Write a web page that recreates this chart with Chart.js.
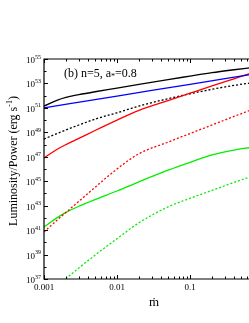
<!DOCTYPE html>
<html><head><meta charset="utf-8">
<script src="https://cdn.jsdelivr.net/npm/chart.js@4/dist/chart.umd.min.js"></script>
<style>html,body{margin:0;padding:0;background:#fff;overflow:hidden;width:249px;height:323px}canvas{display:block}</style>
</head><body>
<canvas id="c" width="270" height="323"></canvas>
<script>
// accretion rate (x) values
const mdot = [0.001, 0.0015, 0.002, 0.003, 0.005, 0.01, 0.02, 0.05, 0.1, 0.2, 0.4, 0.7];
// log10 of luminosity / power (erg/s)
const logBlackSolid  = [51.15, 51.62, 51.86, 52.08, 52.32, 52.62, 52.93, 53.32, 53.6, 53.88, 54.12, 54.3];
const logBlackDotted = [48.45, 48.9, 49.2, 49.6, 50.08, 50.6, 51.15, 51.75, 52.15, 52.52, 52.84, 53.05];
const logRedSolid    = [46.9, 47.6, 48.0, 48.5, 49.15, 50.0, 50.8, 51.6, 52.2, 52.8, 53.38, 53.85];
const logRedDotted   = [40.85, 41.8, 42.45, 43.35, 44.5, 46.0, 47.25, 48.2, 48.9, 49.6, 50.3, 50.85];
const logGreenSolid  = [41.25, 42.0, 42.45, 42.95, 43.5, 44.2, 44.95, 45.9, 46.55, 47.15, 47.55, 47.78];
const mdotBlue = [0.001, 0.01, 0.1, 0.7];
const logBlue  = [51.0, 51.97, 52.93, 53.75];
const mdotGreenDotted = [0.0018, 0.003, 0.005, 0.01, 0.02, 0.05, 0.1, 0.2, 0.4, 0.7];
const logGreenDotted  = [36.8, 37.9, 38.95, 40.3, 41.6, 42.9, 43.6, 44.25, 44.9, 45.4];
// axis ticks
const yTickExps = [37, 39, 41, 43, 45, 47, 49, 51, 53, 55];
const xTickLabels = ['0.001', '0.01', '0.1'];
const xTickValues = [0.001, 0.01, 0.1];
const panelLabel = '(b) n=5, a';
const panelLabelSub = '*';
const panelLabelEnd = '=0.8';
const yTitle = 'Luminosity/Power (erg s';
const yTitleSup = '-1';
const xTitle = 'ṁ';

function pts(xs, ls) { return xs.map((x, i) => ({x: x, y: Math.pow(10, ls[i])})); }
function ds(xs, ls, color, dashed) {
  return {data: pts(xs, ls), borderColor: color, borderWidth: 1.3, borderDash: dashed ? [2, 2] : [],
    pointRadius: 0, fill: false, cubicInterpolationMode: 'monotone'};
}
const SERIF = '"Liberation Serif", "Times New Roman", serif';

const framePlugin = {
  id: 'frame',
  afterDraw(chart) {
    const ctx = chart.ctx, a = chart.chartArea, xs = chart.scales.x, ys = chart.scales.y;
    ctx.save();
    ctx.strokeStyle = '#000'; ctx.lineWidth = 1.2;
    ctx.beginPath();
    ctx.moveTo(a.left, a.top); ctx.lineTo(a.left, a.bottom); ctx.lineTo(a.right, a.bottom);
    ctx.lineTo(a.right, a.top); ctx.closePath(); ctx.stroke();
    ctx.lineWidth = 1;
    ctx.beginPath();
    // y ticks
    for (let e = 37; e <= 55; e++) {
      const y = Math.round(ys.getPixelForValue(Math.pow(10, e))) + 0.5;
      const L = (e % 2 === 1) ? 4 : 2.5;
      ctx.moveTo(a.left, y); ctx.lineTo(a.left + L, y);
      ctx.moveTo(a.right, y); ctx.lineTo(a.right - L, y);
    }
    // x ticks
    for (let d = -3; d < 0; d++) {
      for (let m = 1; m <= 9; m++) {
        const v = m * Math.pow(10, d);
        const x = Math.round(xs.getPixelForValue(v)) + 0.5;
        const L = m === 1 ? 4 : 2.5;
        ctx.moveTo(x, a.bottom); ctx.lineTo(x, a.bottom - L);
        ctx.moveTo(x, a.top); ctx.lineTo(x, a.top + L);
      }
    }
    ctx.stroke();
    ctx.fillStyle = '#000';
    // y tick labels
    yTickExps.forEach(e => {
      const y = ys.getPixelForValue(Math.pow(10, e));
      ctx.font = '6px ' + SERIF;
      const ew = ctx.measureText(String(e)).width;
      const right = a.left - 3;
      ctx.textBaseline = 'alphabetic'; ctx.textAlign = 'left';
      ctx.fillText(String(e), right - ew, y - 0.5);
      ctx.font = '9px ' + SERIF;
      const bw = ctx.measureText('10').width;
      ctx.fillText('10', right - ew - bw, y + 4);
    });
    // x tick labels
    ctx.font = '9px ' + SERIF; ctx.textAlign = 'center'; ctx.textBaseline = 'top';
    xTickValues.forEach((v, i) => {
      ctx.fillText(xTickLabels[i], xs.getPixelForValue(v), a.bottom + 4);
    });
    // x title
    ctx.font = '13px ' + SERIF; ctx.textBaseline = 'alphabetic';
    ctx.fillText(xTitle, 154, 306);
    // panel label
    ctx.textAlign = 'left';
    ctx.font = '12px ' + SERIF;
    let px = 64, py = 77;
    ctx.fillText(panelLabel, px, py); px += ctx.measureText(panelLabel).width;
    ctx.font = '8px ' + SERIF;
    ctx.fillText(panelLabelSub, px, py + 2); px += ctx.measureText(panelLabelSub).width;
    ctx.font = '12px ' + SERIF;
    ctx.fillText(panelLabelEnd, px, py);
    // y title
    ctx.save();
    ctx.translate(17, 161); ctx.rotate(-Math.PI / 2);
    ctx.font = '12px ' + SERIF;
    const w1 = ctx.measureText(yTitle).width;
    ctx.font = '8px ' + SERIF;
    const w2 = ctx.measureText(yTitleSup).width;
    ctx.font = '12px ' + SERIF;
    const w3 = ctx.measureText(')').width;
    let sx = -(w1 + w2 + w3) / 2;
    ctx.fillText(yTitle, sx, 0); sx += w1;
    ctx.font = '8px ' + SERIF; ctx.fillText(yTitleSup, sx, -5); sx += w2;
    ctx.font = '12px ' + SERIF; ctx.fillText(')', sx, 0);
    ctx.restore();
    ctx.restore();
  }
};

new Chart(document.getElementById('c'), {
  type: 'line',
  data: {
    datasets: [
      ds(mdot, logBlackSolid, '#000000', false),
      ds(mdotBlue, logBlue, '#0000ff', false),
      ds(mdot, logRedSolid, '#ff0000', false),
      ds(mdot, logBlackDotted, '#000000', true),
      ds(mdot, logRedDotted, '#ff0000', true),
      ds(mdot, logGreenSolid, '#00ee00', false),
      ds(mdotGreenDotted, logGreenDotted, '#00ee00', true)
    ]
  },
  options: {
    responsive: false, animation: false, devicePixelRatio: 1,
    layout: {padding: {left: 44, top: 59, right: 7, bottom: 44}},
    plugins: {legend: {display: false}, tooltip: {enabled: false}},
    scales: {
      x: {type: 'logarithmic', min: 0.001, max: 1, display: false},
      y: {type: 'logarithmic', min: 1e37, max: 1e55, display: false}
    }
  },
  plugins: [framePlugin]
});
</script>
</body></html>
